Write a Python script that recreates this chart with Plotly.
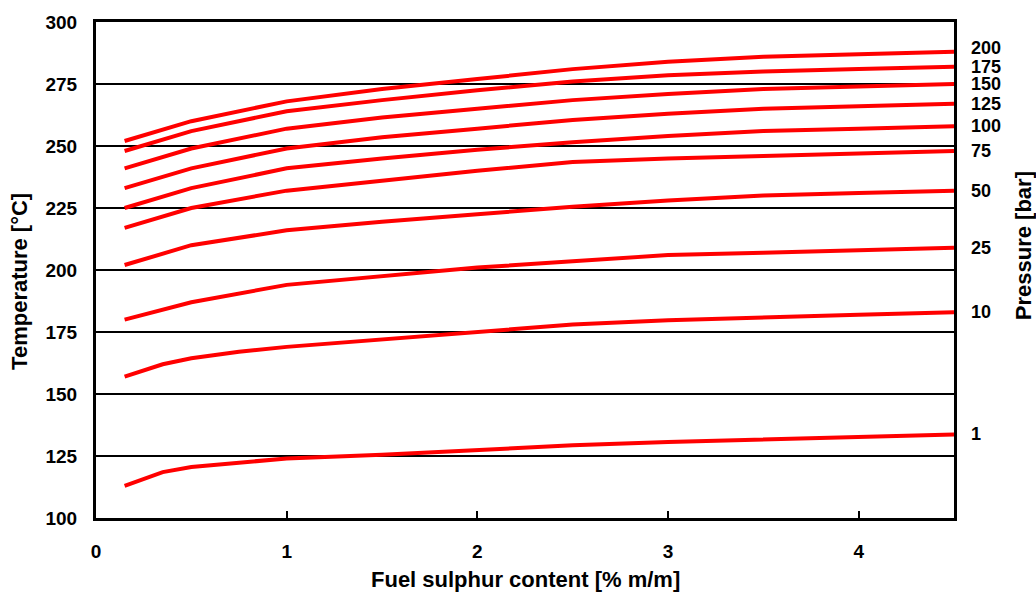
import plotly.graph_objects as go

x_main = [0.15, 0.5, 1, 1.5, 2, 2.5, 3, 3.5, 4, 4.5]
x_low = [0.15, 0.35, 0.5, 0.75, 1, 1.5, 2, 2.5, 3, 3.5, 4, 4.5]

p200 = [252, 260, 268, 273, 277, 281, 284, 286, 287, 288]
p175 = [248, 256, 264, 268.5, 272.5, 276, 278.5, 280, 281, 282]
p150 = [241, 249, 257, 261.5, 265, 268.5, 271, 273, 274, 275]
p125 = [233, 241, 249, 253.5, 257, 260.5, 263, 265, 266, 267]
p100 = [225, 233, 241, 245, 248.5, 251.5, 254, 256, 257, 258]
p75 = [217, 225, 232, 236, 240, 243.5, 245, 246, 247, 248]
p50 = [202, 210, 216, 219.5, 222.5, 225.5, 228, 230, 231, 232]
p25 = [180, 187, 194, 197.5, 201, 203.5, 206, 207, 208, 209]
p10 = [157, 162, 164.4, 167, 169, 172, 175, 178, 179.7, 181, 182, 183]
p1 = [113, 118.5, 120.6, 122.5, 124, 125.5, 127.3, 129.3, 130.6, 131.5, 132.4, 133.7]

pressure_labels = ["200", "175", "150", "125", "100", "75", "50", "25", "10", "1"]
series = [(x_main, p200), (x_main, p175), (x_main, p150), (x_main, p125),
          (x_main, p100), (x_main, p75), (x_main, p50), (x_main, p25),
          (x_low, p10), (x_low, p1)]

x_ticks = [0, 1, 2, 3, 4]
y_ticks = [100, 125, 150, 175, 200, 225, 250, 275, 300]

FONT = "Liberation Sans, Arial, sans-serif"

fig = go.Figure()
for (xs, ys), lab in zip(series, pressure_labels):
    fig.add_trace(go.Scatter(x=xs, y=ys, mode="lines", name=lab + " bar",
                             line=dict(color="#FF0000", width=4),
                             showlegend=False, hoverinfo="skip"))

for (xs, ys), lab in zip(series, pressure_labels):
    fig.add_annotation(x=1, xref="paper", y=ys[-1], yref="y", text="<b>" + lab + "</b>",
                       showarrow=False, xanchor="left", yanchor="middle",
                       xshift=15, yshift=4 if lab == "200" else 0,
                       font=dict(family=FONT, size=18, color="black"))

fig.add_annotation(text="<b>Fuel sulphur content [% m/m]</b>", xref="paper", yref="paper",
                   x=0.5, y=-0.123, xanchor="center", yanchor="middle", showarrow=False,
                   font=dict(family=FONT, size=22, color="black"))
fig.add_annotation(text="<b>Temperature [°C]</b>", xref="paper", yref="paper",
                   x=-0.0886, y=0.478, xanchor="center", yanchor="middle", showarrow=False,
                   textangle=-90, font=dict(family=FONT, size=22, color="black"))
fig.add_annotation(text="<b>Pressure [bar]</b>", xref="paper", yref="paper",
                   x=1.0804, y=0.550, xanchor="center", yanchor="middle", showarrow=False,
                   textangle=-90, font=dict(family=FONT, size=22, color="black"))

fig.update_layout(
    width=1036, height=597,
    margin=dict(l=96, r=82, t=22, b=79),
    plot_bgcolor="white", paper_bgcolor="white",
    font=dict(family=FONT, size=19, color="black"),
)
fig.update_xaxes(range=[0, 4.5], tickvals=x_ticks,
                 ticktext=["<b>%d</b>" % v for v in x_ticks],
                 showgrid=False, zeroline=False,
                 showline=True, linecolor="black", linewidth=3, mirror=True,
                 ticks="inside", ticklen=7, tickwidth=2, tickcolor="black",
                 ticklabelstandoff=14)
fig.update_yaxes(range=[100, 300], tickvals=y_ticks,
                 ticktext=["<b>%d</b>" % v for v in y_ticks],
                 showgrid=True, gridcolor="black", gridwidth=2, zeroline=False,
                 showline=True, linecolor="black", linewidth=3, mirror=True,
                 ticks="", ticklabelstandoff=12)

fig.write_html("out.html", config={"displayModeBar": False},
               post_script="document.body.style.margin='0px';document.body.style.overflow='hidden';")
